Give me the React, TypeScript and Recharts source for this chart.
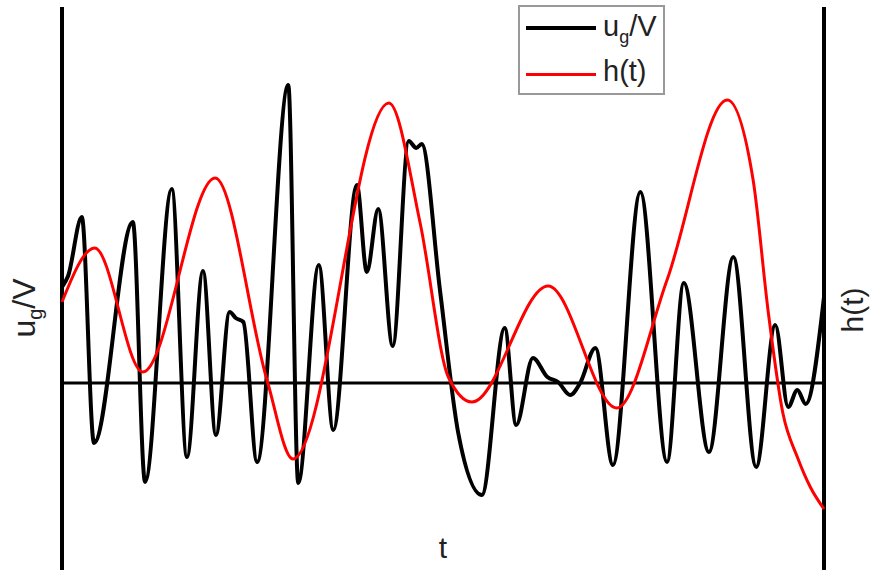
import React from 'react';
import { LineChart, Line, XAxis, YAxis, ReferenceLine } from 'recharts';

// u_g/V trace (black)
const ugTime = [
  0, 0.08, 0.26, 0.42, 0.93, 1.09, 1.44, 1.64, 1.85, 2.02, 2.2, 2.28, 2.38, 2.56, 2.97, 3.1,
  3.37, 3.56, 3.87, 4.0, 4.15, 4.34, 4.55, 4.65, 4.72, 4.96, 5.2, 5.51, 5.81, 5.96,
  6.18, 6.37, 6.51, 6.67, 6.8, 7.0, 7.23, 7.59, 7.94, 8.16, 8.49, 8.81, 9.11, 9.36, 9.53,
  9.65, 9.76, 10,
];
const ugValues = [
  0.96, 1.07, 1.66, -0.6, 1.61, -0.99, 1.94, -0.74, 1.12, -0.52, 0.71, 0.65, 0.61, -0.79, 2.98, -1.0,
  1.18, -0.47, 1.98, 1.11, 1.74, 0.37, 2.42, 2.35, 2.39, 0.93, -0.5, -1.12, 0.55, -0.42,
  0.25, 0.06, 0.01, -0.12, 0.0, 0.35, -0.82, 1.91, -0.79, 1.0, -0.69, 1.26, -0.84, 0.58, -0.24,
  -0.07, -0.21, 0.86,
];

// h(t) trace (red)
const hTime = [
  0, 0.43, 1.06, 2.01, 2.69, 3.03, 4.29, 4.7, 5.07, 5.38, 6.38, 7.28, 7.94, 8.73, 9.07, 9.27,
  9.46, 9.65, 9.82, 10,
];
const hValues = [
  0.81, 1.35, 0.11, 2.05, 0.03, -0.76, 2.8, 1.6, 0.06, -0.19, 0.97, -0.25, 1.03, 2.83, 2.03, 0.7,
  -0.3, -0.74, -1.04, -1.26,
];

const ugData = ugTime.map((t, i) => ({ t, v: ugValues[i] }));
const hData = hTime.map((t, i) => ({ t, v: hValues[i] }));

const font = '"Liberation Sans", Arial, sans-serif';

export default function App() {
  return (
    <div style={{ position: 'absolute', left: 0, top: 0, width: 877, height: 578, background: '#fff', fontFamily: font }}>
      <LineChart width={877} height={578} margin={{ top: 7, right: 53, bottom: 8, left: 62 }}>
        <XAxis type="number" dataKey="t" domain={[0, 10]} hide />
        <YAxis type="number" domain={[-1.87, 3.76]} hide />
        <ReferenceLine y={0} stroke="#000" strokeWidth={3} />
        <ReferenceLine x={0} stroke="#000" strokeWidth={4} />
        <ReferenceLine x={10} stroke="#000" strokeWidth={4} />
        <Line
          data={ugData}
          dataKey="v"
          type="monotone"
          stroke="#000"
          strokeWidth={4}
          dot={false}
          isAnimationActive={false}
        />
        <Line
          data={hData}
          dataKey="v"
          type="monotone"
          stroke="#ff0000"
          strokeWidth={3}
          dot={false}
          isAnimationActive={false}
        />
      </LineChart>

      {/* legend */}
      <div
        style={{
          position: 'absolute',
          left: 518,
          top: 5,
          width: 143,
          height: 86,
          border: '2px solid #999',
          background: '#fff',
        }}
      >
        <div style={{ position: 'absolute', left: 6, top: 19, width: 70, height: 4, background: '#000' }} />
        <div style={{ position: 'absolute', left: 6, top: 66, width: 70, height: 3, background: '#ff0000' }} />
        <div style={{ position: 'absolute', left: 83, top: 2, fontSize: 29, color: '#222', lineHeight: '34px', whiteSpace: 'nowrap' }}>
          u<sub style={{ fontSize: 18, verticalAlign: '-7px' }}>g</sub>/V
        </div>
        <div style={{ position: 'absolute', left: 83, top: 47, fontSize: 29, color: '#222', lineHeight: '34px', whiteSpace: 'nowrap' }}>
          h(t)
        </div>
      </div>

      {/* axis labels */}
      <div
        style={{
          position: 'absolute',
          left: 29,
          top: 308,
          transform: 'translate(-50%, -50%) rotate(-90deg)',
          fontSize: 32,
          color: '#222',
          whiteSpace: 'nowrap',
          lineHeight: '36px',
        }}
      >
        u<sub style={{ fontSize: 20, verticalAlign: '-7px' }}>g</sub>/V
      </div>
      <div
        style={{
          position: 'absolute',
          left: 853,
          top: 310,
          transform: 'translate(-50%, -50%) rotate(-90deg)',
          fontSize: 30,
          color: '#222',
          whiteSpace: 'nowrap',
          lineHeight: '34px',
        }}
      >
        h(t)
      </div>
      <div
        style={{
          position: 'absolute',
          left: 443,
          top: 548,
          transform: 'translate(-50%, -50%)',
          fontSize: 30,
          color: '#222',
          lineHeight: '34px',
        }}
      >
        t
      </div>
    </div>
  );
}
